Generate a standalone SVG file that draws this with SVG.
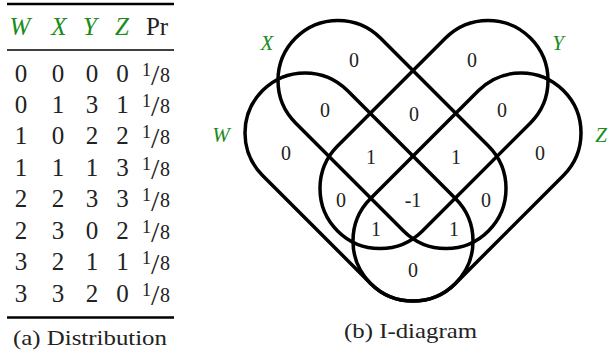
<svg xmlns="http://www.w3.org/2000/svg" width="609" height="354" viewBox="0 0 609 354" font-family="Liberation Serif, Times New Roman, DejaVu Serif, serif">
<style>
text{fill:#222}
.cell{font-size:25px;text-anchor:middle}
.hdr{font-size:25px;text-anchor:middle;font-style:italic;fill:#1a8c1a}
.num{font-size:20px;text-anchor:middle}
.lbl{font-size:21px;text-anchor:middle;font-style:italic;fill:#1a8c1a}
.cap{font-size:22px;text-anchor:middle}
.fs{font-size:18px}
.f8{font-size:20px}
.sl{font-size:30px}
.rule{stroke:#000}
.cap2{fill:none;stroke:#000;stroke-width:3.5}
</style>
<g id="table">
<line class="rule" x1="7" y1="4" x2="174" y2="4" stroke-width="2.5"/>
<line class="rule" x1="7" y1="50" x2="174" y2="50" stroke-width="1.6"/>
<line class="rule" x1="7" y1="317.5" x2="174" y2="317.5" stroke-width="2.5"/>
<text class="hdr" x="20" y="35">W</text>
<text class="hdr" x="59" y="35">X</text>
<text class="hdr" x="90" y="35">Y</text>
<text class="hdr" x="122" y="35">Z</text>
<text class="cell" x="157" y="35">Pr</text>
<g id="rows">
<text class="cell" x="21" y="81.5">0</text><text class="cell" x="58" y="81.5">0</text><text class="cell" x="92" y="81.5">0</text><text class="cell" x="122.5" y="81.5">0</text>
<text class="cell" x="21" y="113">0</text><text class="cell" x="58" y="113">1</text><text class="cell" x="92" y="113">3</text><text class="cell" x="122.5" y="113">1</text>
<text class="cell" x="21" y="144.4">1</text><text class="cell" x="58" y="144.4">0</text><text class="cell" x="92" y="144.4">2</text><text class="cell" x="122.5" y="144.4">2</text>
<text class="cell" x="21" y="175.9">1</text><text class="cell" x="58" y="175.9">1</text><text class="cell" x="92" y="175.9">1</text><text class="cell" x="122.5" y="175.9">3</text>
<text class="cell" x="21" y="207.3">2</text><text class="cell" x="58" y="207.3">2</text><text class="cell" x="92" y="207.3">3</text><text class="cell" x="122.5" y="207.3">3</text>
<text class="cell" x="21" y="238.8">2</text><text class="cell" x="58" y="238.8">3</text><text class="cell" x="92" y="238.8">0</text><text class="cell" x="122.5" y="238.8">2</text>
<text class="cell" x="21" y="270.2">3</text><text class="cell" x="58" y="270.2">2</text><text class="cell" x="92" y="270.2">1</text><text class="cell" x="122.5" y="270.2">1</text>
<text class="cell" x="21" y="301.7">3</text><text class="cell" x="58" y="301.7">3</text><text class="cell" x="92" y="301.7">2</text><text class="cell" x="122.5" y="301.7">0</text>
</g>
<g id="probs">
<g transform="translate(0,0)"><text class="fs" x="142" y="75.5">1</text><text class="sl" x="151" y="85">/</text><text class="f8" x="160" y="81.5">8</text></g>
<g transform="translate(0,31.45)"><text class="fs" x="142" y="75.5">1</text><text class="sl" x="151" y="85">/</text><text class="f8" x="160" y="81.5">8</text></g>
<g transform="translate(0,62.9)"><text class="fs" x="142" y="75.5">1</text><text class="sl" x="151" y="85">/</text><text class="f8" x="160" y="81.5">8</text></g>
<g transform="translate(0,94.35)"><text class="fs" x="142" y="75.5">1</text><text class="sl" x="151" y="85">/</text><text class="f8" x="160" y="81.5">8</text></g>
<g transform="translate(0,125.8)"><text class="fs" x="142" y="75.5">1</text><text class="sl" x="151" y="85">/</text><text class="f8" x="160" y="81.5">8</text></g>
<g transform="translate(0,157.25)"><text class="fs" x="142" y="75.5">1</text><text class="sl" x="151" y="85">/</text><text class="f8" x="160" y="81.5">8</text></g>
<g transform="translate(0,188.7)"><text class="fs" x="142" y="75.5">1</text><text class="sl" x="151" y="85">/</text><text class="f8" x="160" y="81.5">8</text></g>
<g transform="translate(0,220.15)"><text class="fs" x="142" y="75.5">1</text><text class="sl" x="151" y="85">/</text><text class="f8" x="160" y="81.5">8</text></g>
</g>
<text class="cap" x="90" y="345" textLength="154" lengthAdjust="spacingAndGlyphs">(a) Distribution</text>
</g>
<g id="set-X"><rect class="cap2" x="-136.37" y="-60" width="272.74" height="120" rx="60" transform="translate(392,134.5) rotate(45)"/><text class="lbl" x="267" y="50">X</text></g>
<g id="set-Y"><rect class="cap2" x="-136.37" y="-60" width="272.74" height="120" rx="60" transform="translate(434,134.5) rotate(-45)"/><text class="lbl" x="558" y="50">Y</text></g>
<g id="set-W"><rect class="cap2" x="-136.37" y="-60" width="272.74" height="120" rx="60" transform="translate(359,187) rotate(45)"/><text class="lbl" x="221" y="142">W</text></g>
<g id="set-Z"><rect class="cap2" x="-136.37" y="-60" width="272.74" height="120" rx="60" transform="translate(467,187) rotate(-45)"/><text class="lbl" x="601" y="142">Z</text></g>
<g id="values">
<text class="num" x="354" y="67">0</text>
<text class="num" x="472" y="67">0</text>
<text class="num" x="325" y="117">0</text>
<text class="num" x="414" y="121">0</text>
<text class="num" x="502" y="117">0</text>
<text class="num" x="286" y="160">0</text>
<text class="num" x="540" y="160">0</text>
<text class="num" x="371" y="164">1</text>
<text class="num" x="456" y="164">1</text>
<text class="num" x="341" y="207">0</text>
<text class="num" x="413" y="207">-1</text>
<text class="num" x="486" y="207">0</text>
<text class="num" x="376" y="236">1</text>
<text class="num" x="454" y="236">1</text>
<text class="num" x="413" y="277">0</text>
</g>
<text class="cap" x="410.5" y="338" textLength="133" lengthAdjust="spacingAndGlyphs">(b) I-diagram</text>
</svg>
